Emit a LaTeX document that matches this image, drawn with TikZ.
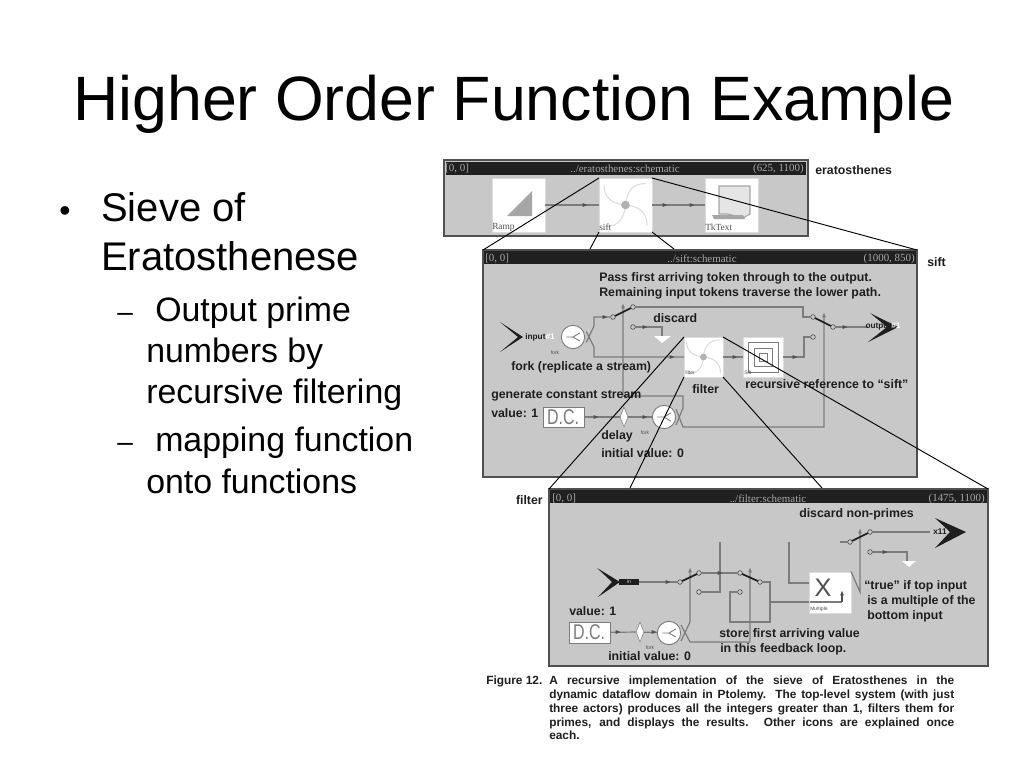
\documentclass[tikz,border=0pt]{standalone}
\usepackage{fontspec}
\setmainfont{Liberation Sans}
\newfontfamily\serifui{Liberation Serif}
\usetikzlibrary{fit,arrows.meta,shapes.geometric}
\definecolor{winbg}{HTML}{C8C8C8}
\definecolor{winedge}{HTML}{505050}
\definecolor{winbar}{HTML}{202020}
\definecolor{wirec}{HTML}{7C7C7C}
\definecolor{ink}{HTML}{1E1E1E}
\definecolor{bartext}{HTML}{A8A8A8}
\definecolor{pale}{HTML}{DCDCDC}
\tikzset{
 win/.style={draw=winedge,line width=2.2pt,fill=winbg,inner sep=0pt,outer sep=0pt},
 bar/.style={fill=winbar,inner sep=0pt,outer sep=0pt},
 icon/.style={fill=white,draw=pale,line width=.4pt,inner sep=0pt,outer sep=0pt},
 wire/.style={draw=wirec,line width=.9pt},
 lever/.style={draw=ink,line width=1.3pt},
 zoomline/.style={draw=black,line width=.7pt},
 term/.style={circle,draw=winedge,fill=winbg,line width=.5pt,minimum size=3.5pt,inner sep=0pt,outer sep=0pt},
 forkn/.style={circle,draw=wirec,fill=white,line width=.7pt,minimum size=17.5pt,inner sep=0pt,outer sep=0pt},
 delayn/.style={diamond,draw=wirec,fill=white,line width=.4pt,minimum width=6pt,minimum height=15pt,inner sep=0pt,aspect=.4},
 dcbox/.style={fill=white,draw=wirec,line width=.5pt,inner sep=0pt,outer sep=0pt},
 dctxt/.style={inner sep=0pt,text=wirec,font=\fontsize{16}{16}\selectfont},
 lbl/.style={anchor=west,inner sep=0pt,text=ink,font=\fontsize{9.25}{10}\selectfont\bfseries},
 bartxt/.style={inner sep=0pt,text=bartext,font=\serifui\fontsize{8.2}{9}\selectfont},
 tiny/.style={inner sep=0pt,text=winedge,font=\fontsize{3.8}{4}\selectfont},
 icontxt/.style={anchor=west,inner sep=0pt,text=winedge,font=\serifui\fontsize{7}{7}\selectfont},
 chevtxt/.style={inner sep=0pt,font=\fontsize{6.2}{6.2}\selectfont\bfseries},
 body/.style={anchor=base west,inner sep=0pt,text=black},
 bodyA/.style={body,font=\fontsize{30}{30}\selectfont},
 bodyB/.style={body,font=\fontsize{25.4}{26}\selectfont},
 upar/.style={-{Latex[length=4pt,width=3pt]}},
}
\newcommand{\tck}[2]{\fill[winedge] ({#1-2.5},{#2-2}) -- ({#1+2.5},#2) -- ({#1-2.5},{#2+2}) -- cycle;}
\newcommand{\pinw}[3]{\begin{scope}[shift={(#1,#2)},x=#3,y=-#3]
 \foreach \a in {0,90,180,270}{\draw[pale,line width=.8pt,rotate=\a] (0,0) .. controls (.05,-.55) and (.3,-.85) .. (.8,-.85);}
 \fill[gray!60] (0,0) circle[radius=.17];
 \end{scope}}
\newcommand{\forkin}[1]{\draw[wirec,line width=.7pt] ([xshift=-5pt]#1.center) -- (#1.center) -- ++(5pt,3pt) (#1.center) -- ++(5pt,-3pt);}
\newcommand{\capl}[1]{\hbox to 303.75pt{#1}}
\begin{document}
\begin{tikzpicture}[x=.75pt,y=-.75pt]
\useasboundingbox[fill=white] (0,0) rectangle (1024,768);
% title and bullets
\node[body,font=\fontsize{47}{47}\selectfont] (title) at (73,120) {Higher Order Function Example};
\node[body,font=\fontsize{24}{24}\selectfont] (b0) at (59,221) {•};
\node[bodyA] (b1) at (101,221) {Sieve of};
\node[bodyA] (b2) at (101,270) {Eratosthenese};
\node[body,font=\fontsize{21}{21}\selectfont] (d1) at (117,321) {–};
\node[bodyB] (s1) at (155,321) {Output prime};
\node[bodyB] (s2) at (146,362) {numbers by};
\node[bodyB] (s3) at (146,403) {recursive filtering};
\node[body,font=\fontsize{21}{21}\selectfont] (d2) at (117,451) {–};
\node[bodyB] (s4) at (155,451) {mapping function};
\node[bodyB] (s5) at (146,493) {onto functions};
\fill[white] (411,425) rectangle (440,460);
% ===== eratosthenes window
\node[win,fit={(444,160)(808,236)}] (ew) {};
\node[bar,fit={(446,162)(806,175)}] (ebar) {};
\node[bartxt,anchor=west] (e1) at (445,169) {[0, 0]};
\node[bartxt] (e2) at (625,169) {../eratosthenes:schematic};
\node[bartxt,anchor=east] (e3) at (804,169) {(625, 1100)};
\node[icon,fit={(492,178)(545,232)}] (ramp) {};
\node[icon,fit={(599,178)(652,232)}] (esift) {};
\node[icon,fit={(705,178)(758,232)}] (tk) {};
\fill[gray!70] (507,216) -- (532,191) -- (532,216) -- cycle;
\pinw{625.5}{205}{19pt}
\draw[gray!70,line width=.8pt,fill=gray!20] (719,186) -- (750,186) -- (750,214) -- (743,218) -- (728,214) -- (719,214) -- cycle;
\fill[gray!70] (712,215) -- (743,215) -- (745,219) -- (714,219) -- cycle;
\draw[wire] (ramp.east) -- (esift.west);
\draw[wire] (esift.east) -- (tk.west);
\tck{585}{205} \tck{665}{205} \tck{692}{205}
\node[icontxt] (e4) at (492,227) {Ramp};
\node[icontxt] (e5) at (599,227) {sift};
\node[icontxt] (e6) at (705,227) {TkText};
\node[lbl] (en) at (815,170) {eratosthenes};
% ===== sift window
\node[win,fit={(483,250)(917,477)}] (sw) {};
\node[bar,fit={(484,251)(916,264)}] (sbar) {};
\node[bartxt,anchor=west] (s1a) at (485,259) {[0, 0]};
\node[bartxt] (s2a) at (702,259) {../sift:schematic};
\node[bartxt,anchor=east] (s3a) at (915,259) {(1000, 850)};
\node[lbl] (sn) at (927,262) {sift};
\node[icon,fit={(684,337)(723,377)}] (filt) {};
\pinw{703.5}{357}{15pt}
\node[tiny,anchor=west] (filtl) at (685,373) {filter};
\node[icon,fit={(743,337)(783,377)}] (rsift) {};
\draw[wirec,line width=.7pt] (748,342) rectangle (778,372) (754,348) rectangle (772,366) (759,353) rectangle (767,361);
\node[tiny,anchor=west] (rl) at (744,373) {Sift};
\node[forkn] (f1) at (573,337) {};
\forkin{f1}
\node[forkn] (f2) at (664,417) {};
\forkin{f2}
\node[dcbox,fit={(543,407)(584,427)}] (dc1) {};
\node[dctxt] (dct1) at (563,417) {\scalebox{.75}[1]{D.C.}};
\node[delayn] (del1) at (624,417) {};
\node[term] (p1) at (613,317) {};
\node[term] (u1) at (633,307) {};
\node[term] (l1) at (633,327) {};
\node[term] (p2) at (833,327) {};
\node[term] (u2) at (813,317) {};
\node[term] (l2) at (813,337) {};
\coordinate (t1) at (662,336);
% wires
\draw[wire] (f1) ++(10pt,-4pt) -- (594,326) -- (594,317) -- (p1);
\draw[wire] (f1) ++(10pt,4pt) -- (594,347) -- (594,357) -- (filt.west);
\draw[wire] (filt.east) -- (rsift.west);
\draw[wire] (rsift.east) -- (804,357) -- (804,337) -- (l2);
\draw[wire] (u1) -- (803,307) -- (803,317) -- (u2);
\draw[wire] (l1) -- (662,327) -- (t1);
\draw[wire] (p2) -- (868,327);
\draw[wire] (dc1) -- (del1);
\draw[wire] (del1) -- (f2);
\draw[wire,upar] (f2) ++(9pt,-6pt) -- (683,408) -- (683,396) -- (623,396) -- (623,303);
\draw[wire,upar] (f2) ++(9pt,6pt) -- (683,427) -- (824,427) -- (824,312);
\draw[lever] (p1) -- (u1);
\draw[lever] (p2) -- (u2);
\tck{605}{317} \tck{645}{327} \tck{672}{357} \tck{735}{357} \tck{795}{357} \tck{845}{327} \tck{596}{417} \tck{645}{417}
\fill[white] (654,336) -- (671,336) -- (662,343) -- cycle;
% chevrons
\fill[ink] (500,322) -- (523,337) -- (500,352) -- (518,337) -- cycle;
\fill[ink] (870,313) -- (898,327) -- (868,342) -- (887,327) -- cycle;
\node[chevtxt] (ci) at (540,337) {\textcolor{ink}{input}\textcolor{white}{\#1}};
\node[chevtxt] (co) at (883,327) {\textcolor{ink}{output}\textcolor{white}{\#1}};
\node[tiny] (fk1) at (555,353) {fork};
\node[tiny] (fk2) at (645,433) {fork};
% labels
\node[lbl] (a1) at (599,278) {Pass first arriving token through to the output.};
\node[lbl] (a2) at (599,293) {Remaining input tokens traverse the lower path.};
\node[lbl] (a3) at (653,318) {discard};
\node[lbl] (a4) at (511,367) {fork (replicate a stream)};
\node[lbl] (a5) at (692,389) {filter};
\node[lbl] (a6) at (491,396) {generate constant stream};
\node[lbl] (a7) at (491,413) {value: 1};
\node[lbl] (a8) at (601,436) {delay};
\node[lbl] (a9) at (601,453) {initial value: 0};
\node[lbl] (a10) at (745,384) {recursive reference to “sift”};
% ===== filter window
\node[win,fit={(549,489)(988,666)}] (fw) {};
\node[bar,fit={(550,490)(987,503)}] (fbar) {};
\node[bartxt,anchor=west] (f1a) at (552,499) {[0, 0]};
\node[bartxt] (f2a) at (768,499) {../filter:schematic};
\node[bartxt,anchor=east] (f3a) at (985,499) {(1475, 1100)};
\node[lbl,anchor=east] (fn) at (543,500) {filter};
\node[icon,fit={(809,572)(851,613)}] (mult) {};
\node[inner sep=0pt,text=winedge,font=\fontsize{19}{19}\selectfont] (xm) at (823,588) {X};
\node[tiny,anchor=west] (ml) at (810,609) {Multiple};
\node[forkn] (f3) at (669,633) {};
\forkin{f3}
\node[dcbox,fit={(569,622)(610,643)}] (dc2) {};
\node[dctxt] (dct2) at (589,632) {\scalebox{.75}[1]{D.C.}};
\node[delayn] (del2) at (640,632) {};
\node[term] (p3) at (680,582) {};
\node[term] (u3) at (699,573) {};
\node[term] (l3) at (699,592) {};
\node[term] (p4) at (760,582) {};
\node[term] (u4) at (740,573) {};
\node[term] (l4) at (740,592) {};
\node[term] (p5) at (850,542) {};
\node[term] (u5) at (870,532) {};
\node[term] (l5) at (870,552) {};
\coordinate (t2) at (907,561);
\fill[ink] (597,568) -- (620,582) -- (598,597) -- (612,582) -- cycle;
\fill[ink] (935,518) -- (966,532) -- (935,548) -- (950,532) -- cycle;
\node[inner sep=0pt,fill=ink,minimum width=14.5pt,minimum height=5pt,text=winbg,font=\fontsize{4}{4}\selectfont] (inb) at (629,582) {in};
\draw[wire] (inb) -- (p3);
\draw[wire] (u3) -- (u4);
\draw[wire] (l3) -- (720,592) -- (720,542);
\draw[wire] (l4) -- (730,592) -- (730,622) -- (770,622) -- (770,582) -- (p4);
\draw[wire] (770,602) -- (809,602);
\draw[wire] (789,542) -- (789,583) -- (809,583);
\draw[wire] (dc2) -- (del2);
\draw[wire] (del2) -- (f3);
\draw[wire,upar] (f3) ++(9pt,-6pt) -- (690,622) -- (690,567);
\draw[wire,upar] (f3) ++(9pt,6pt) -- (690,642) -- (750,642) -- (750,567);
\draw[wire,upar] (mult.east) ++(0,-21) -- (860,592) -- (860,528);
\draw[wire] (810,602) -- (842,602);
\draw[wire,upar,draw=winedge] (842,602) -- (842,590);
\draw[wire] (840,542) -- (p5);
\draw[wire] (u5) -- (930,532);
\draw[wire] (l5) -- (907,552) -- (t2);
\draw[lever] (p3) -- (u3);
\draw[lever] (p4) -- (u4);
\draw[lever] (p5) -- (u5);
\tck{668}{582} \tck{720}{573} \tck{885}{552} \tck{618}{632} \tck{654}{632}
\fill[white] (902,561) -- (916,561) -- (909,567) -- cycle;
\node[chevtxt,text=ink] (xo) at (940,532) {x11};
\node[tiny] (fk3) at (650,648) {fork};
\node[lbl] (g1) at (799,514) {discard non-primes};
\node[lbl] (g2) at (864,586) {“true” if top input};
\node[lbl] (g3) at (867,601) {is a multiple of the};
\node[lbl] (g4) at (867,616) {bottom input};
\node[lbl] (g5) at (569,611) {value: 1};
\node[lbl] (g6) at (608,656) {initial value: 0};
\node[lbl] (g7) at (719,634) {store first arriving value};
\node[lbl] (g8) at (720,649) {in this feedback loop.};
% zoom lines
\draw[zoomline] (esift.north west) -- (sw.north west);
\draw[zoomline] (esift.north east) -- (sw.north east);
\draw[zoomline] (esift.south west) -- (590,249);
\draw[zoomline] (esift.south east) -- (674,249);
\draw[zoomline] (filt.north west) -- (fw.north west);
\draw[zoomline] (filt.north east) -- (fw.north east);
\draw[zoomline] (filt.south west) -- (630,488);
\draw[zoomline] (filt.south east) -- (822,488);
% caption
\node[anchor=north west,inner sep=0pt,text=ink,font=\fontsize{8.9}{8.9}\selectfont\bfseries] (capa) at (486,676) {Figure 12.};
\node[anchor=north west,inner sep=0pt,text=ink,align=left,font=\fontsize{8.9}{10.3}\selectfont\bfseries] (capb) at (549,676) {%
\capl{A recursive implementation of the sieve of Eratosthenes in the}\\
\capl{dynamic dataflow domain in Ptolemy. The top-level system (with just}\\
\capl{three actors) produces all the integers greater than 1, filters them for}\\
\capl{primes, and displays the results. Other icons are explained once}\\
each.};
\end{tikzpicture}
\end{document}
